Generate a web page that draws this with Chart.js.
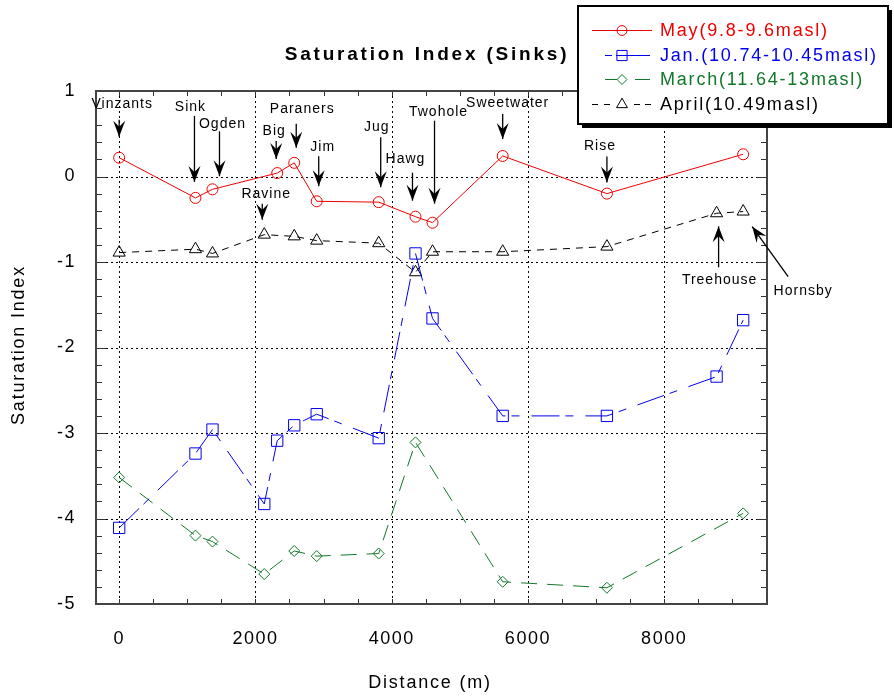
<!DOCTYPE html>
<html>
<head>
<meta charset="UTF-8">
<script src="https://cdn.jsdelivr.net/npm/chart.js@4.4.1/dist/chart.umd.min.js"></script>
<style>
  body { margin: 0; background: #fff; }
  canvas { display: block; }
</style>
</head>
<body>
<canvas id="myChart" width="894" height="698"></canvas>
<script>
// sites along the cave stream and their distance (m)
const sites = ['Vinzants', 'Sink', 'Ogden', 'Ravine', 'Big', 'Paraners', 'Jim', 'Jug', 'Hawg', 'Twohole', 'Sweetwater', 'Rise', 'Treehouse', 'Hornsby'];
const distance = [0, 1120, 1370, 2130, 2320, 2570, 2900, 3810, 4350, 4600, 5630, 7160, 8770, 9160];

// saturation index per sampling trip (null = not sampled)
const may   = [0.22, -0.25, -0.15, null, 0.04, 0.16, -0.29, -0.30, -0.47, -0.54, 0.24, -0.20, null, 0.26];
const jan   = [-4.11, -3.24, -2.96, -3.83, -3.09, -2.91, -2.78, -3.06, -0.90, -1.66, -2.80, -2.80, -2.34, -1.68];
const march = [-3.52, -4.20, -4.27, -4.65, null, -4.38, -4.44, -4.41, -3.11, null, -4.74, -4.81, null, -3.94];
const april = [-0.89, -0.85, -0.90, -0.68, null, -0.70, -0.75, -0.78, -1.12, -0.88, -0.88, -0.82, -0.43, -0.41];

const seriesNames = ['May(9.8-9.6masl)', 'Jan.(10.74-10.45masl)', 'March(11.64-13masl)', 'April(10.49masl)'];
const xTicks = [0, 2000, 4000, 6000, 8000];
const yTicks = [-5, -4, -3, -2, -1, 0, 1];

const FONT = "'Liberation Sans', Arial, sans-serif";

// site arrows: offsets (px) from the marker they point at
const notes = [
  { site: 0,  on: 'may',   label: [3, -54],   tail: [0, -38],  tip: [0, -21] },
  { site: 1,  on: 'may',   label: [-5, -91],  tail: [-1, -82], tip: [-1, -16] },
  { site: 2,  on: 'may',   label: [10, -65],  tail: [7, -58],  tip: [7, -13] },
  { site: 4,  on: 'may',   label: [-3, -42],  tail: [-1, -32], tip: [-1, -14] },
  { site: 5,  on: 'may',   label: [8, -54],   tail: [2, -39],  tip: [2, -15] },
  { site: 6,  on: 'may',   label: [6, -54],   tail: [2, -45],  tip: [2, -15] },
  { site: 3,  on: 'april', label: [2, -40],   tail: [-2, -31], tip: [-2, -15] },
  { site: 7,  on: 'may',   label: [-2, -75],  tail: [2, -65],  tip: [2, -15] },
  { site: 8,  on: 'may',   label: [-10, -58], tail: [-3, -44], tip: [-3, -16] },
  { site: 9,  on: 'may',   label: [6, -111],  tail: [2, -102], tip: [2, -19] },
  { site: 10, on: 'may',   label: [5, -53],   tail: [0, -42],  tip: [0, -17] },
  { site: 11, on: 'may',   label: [-7, -47],  tail: [0, -37],  tip: [0, -11] },
  { site: 12, on: 'april', label: [3, 67],    tail: [2, 54],   tip: [2, 13] },
  { site: 13, on: 'april', label: [60, 80],   tail: [45, 65],  tip: [9, 15] }
];
const seriesByKey = { may: may, april: april };

function pts(vals) {
  const out = [];
  vals.forEach((v, i) => { if (v !== null) out.push({ x: distance[i], y: v }); });
  return out;
}

const styles = [
  { color: '#ee0000', dash: [],             marker: 'circle',   r: 5.5, sample: [[592, 652]] },
  { color: '#0000ee', dash: [28, 6, 8, 12], marker: 'rect',     r: 8,   sample: [[605, 612], [616, 650]] },
  { color: '#11772a', dash: [16, 10],       marker: 'rectRot',  r: 5.5, sample: [[605, 617], [635, 650]] },
  { color: '#000000', dash: [7, 6],         marker: 'triangle', r: 7,   sample: [[592, 598], [604, 610], [634, 640], [645, 651]] }
];
const values = [may, jan, march, april];

const datasets = values.map((v, i) => ({
  label: seriesNames[i],
  data: pts(v),
  showLine: true,
  borderColor: styles[i].color,
  borderWidth: 1,
  borderDash: styles[i].dash,
  pointStyle: styles[i].marker,
  pointRadius: styles[i].r,
  pointBorderColor: styles[i].color,
  pointBackgroundColor: 'rgba(0,0,0,0)',
  pointBorderWidth: 1
}));

function arrowHead(ctx, x1, y1, x2, y2) {
  const a = Math.atan2(y2 - y1, x2 - x1);
  const L = 16, W = 6, N = 6;
  ctx.save();
  ctx.translate(x2, y2);
  ctx.rotate(a);
  ctx.beginPath();
  ctx.moveTo(0, 0);
  ctx.lineTo(-L, -W);
  ctx.lineTo(-L + N, 0);
  ctx.lineTo(-L, W);
  ctx.closePath();
  ctx.fill();
  ctx.restore();
}

const decor = {
  id: 'decor',
  beforeDraw(chart) {
    chart.ctx.letterSpacing = '1.5px';
  },
  beforeDatasetsDraw(chart) {
    const { ctx, chartArea: a, scales: { x, y } } = chart;
    ctx.save();
    ctx.letterSpacing = '0px';
    // dotted grid
    ctx.strokeStyle = '#000';
    ctx.lineWidth = 1;
    ctx.setLineDash([2, 3]);
    xTicks.forEach(v => {
      const px = Math.round(x.getPixelForValue(v)) + 0.5;
      ctx.beginPath(); ctx.moveTo(px, a.top); ctx.lineTo(px, a.bottom); ctx.stroke();
    });
    yTicks.forEach(v => {
      const py = Math.round(y.getPixelForValue(v)) + 0.5;
      ctx.beginPath(); ctx.moveTo(a.left, py); ctx.lineTo(a.right, py); ctx.stroke();
    });
    ctx.setLineDash([]);
    // inward ticks on all four sides
    ctx.strokeStyle = '#333';
    for (let v = 0; v <= 9500; v += 500) {
      const px = Math.round(x.getPixelForValue(v)) + 0.5;
      ctx.beginPath();
      ctx.moveTo(px, a.bottom); ctx.lineTo(px, a.bottom - 5);
      ctx.moveTo(px, a.top); ctx.lineTo(px, a.top + 5);
      ctx.stroke();
    }
    for (let k = -25; k <= 5; k++) {
      const v = k / 5;
      const py = Math.round(y.getPixelForValue(v)) + 0.5;
      const len = (k % 5 === 0) ? 10 : 6;
      ctx.beginPath();
      ctx.moveTo(a.left, py); ctx.lineTo(a.left + len, py);
      ctx.moveTo(a.right, py); ctx.lineTo(a.right - len, py);
      ctx.stroke();
    }
    // frame
    ctx.strokeStyle = '#444';
    ctx.lineWidth = 2;
    ctx.strokeRect(a.left, a.top, a.right - a.left, a.bottom - a.top);
    ctx.restore();
  },
  afterDatasetsDraw(chart) {
    const { ctx, scales: { x, y } } = chart;
    ctx.save();
    ctx.fillStyle = '#000';
    ctx.strokeStyle = '#000';
    ctx.lineWidth = 1.3;
    ctx.font = '14px ' + FONT;
    ctx.letterSpacing = '1px';
    ctx.textAlign = 'center';
    ctx.textBaseline = 'middle';
    notes.forEach(n => {
      const px = x.getPixelForValue(distance[n.site]);
      const py = y.getPixelForValue(seriesByKey[n.on][n.site]);
      const tx = px + n.tail[0], ty = py + n.tail[1];
      const hx = px + n.tip[0], hy = py + n.tip[1];
      ctx.beginPath(); ctx.moveTo(tx, ty); ctx.lineTo(hx, hy); ctx.stroke();
      arrowHead(ctx, tx, ty, hx, hy);
      ctx.fillText(sites[n.site], px + n.label[0], py + n.label[1]);
    });
    ctx.restore();
  },
  afterDraw(chart) {
    const { ctx } = chart;
    ctx.save();
    ctx.fillStyle = '#000';
    ctx.textAlign = 'center';
    ctx.textBaseline = 'middle';
    // title
    ctx.font = 'bold 19px ' + FONT;
    ctx.letterSpacing = '2.8px';
    ctx.fillText('Saturation Index (Sinks)', 427, 55);
    // axis titles
    ctx.font = '18px ' + FONT;
    ctx.letterSpacing = '1.8px';
    ctx.fillText('Distance (m)', 430, 683);
    ctx.save();
    ctx.translate(19, 345);
    ctx.rotate(-Math.PI / 2);
    ctx.fillText('Saturation Index', 0, 0);
    ctx.restore();

    // legend box with shadow
    const bx = 578, by = 6, bw = 310, bh = 118;
    ctx.fillStyle = '#000';
    ctx.fillRect(bx + 4, by + 4, bw, bh);
    ctx.fillStyle = '#fff';
    ctx.fillRect(bx, by, bw, bh);
    ctx.strokeStyle = '#000';
    ctx.lineWidth = 2;
    ctx.strokeRect(bx, by, bw, bh);
    ctx.textAlign = 'left';
    ctx.font = '18px ' + FONT;
    ctx.letterSpacing = '1.8px';
    datasets.forEach((d, i) => {
      const cy = Math.round(30 + i * 24.7) + 0.5;
      const s = styles[i];
      ctx.strokeStyle = s.color;
      ctx.lineWidth = 1;
      ctx.beginPath();
      s.sample.forEach(seg => { ctx.moveTo(seg[0], cy); ctx.lineTo(seg[1], cy); });
      ctx.stroke();
      ctx.fillStyle = 'rgba(0,0,0,0)';
      Chart.helpers.drawPoint(ctx, { pointStyle: s.marker, radius: s.r * 0.9, borderWidth: 1 }, 622, cy);
      ctx.fillStyle = s.color;
      ctx.fillText(seriesNames[i], 660, cy + 1);
    });
    ctx.restore();
  }
};

const tickFont = { family: FONT, size: 18 };

new Chart(document.getElementById('myChart'), {
  type: 'scatter',
  data: { datasets: datasets },
  options: {
    responsive: false,
    animation: false,
    layout: { padding: { top: 91, right: 127, left: 0, bottom: 0 } },
    plugins: { legend: { display: false }, tooltip: { enabled: false } },
    scales: {
      x: {
        type: 'linear',
        min: -340,
        max: 9510,
        grid: { display: false },
        border: { display: false },
        afterBuildTicks: s => { s.ticks = xTicks.map(v => ({ value: v })); },
        afterFit: s => { s.height = 94; },
        ticks: { font: tickFont, color: '#000', padding: 16, maxRotation: 0, callback: v => String(v) }
      },
      y: {
        type: 'linear',
        min: -5,
        max: 1,
        grid: { display: false },
        border: { display: false },
        afterFit: s => { s.width = 96; },
        ticks: { font: tickFont, color: '#000', padding: 12, stepSize: 1, callback: v => String(v) }
      }
    }
  },
  plugins: [decor]
});
</script>
</body>
</html>
